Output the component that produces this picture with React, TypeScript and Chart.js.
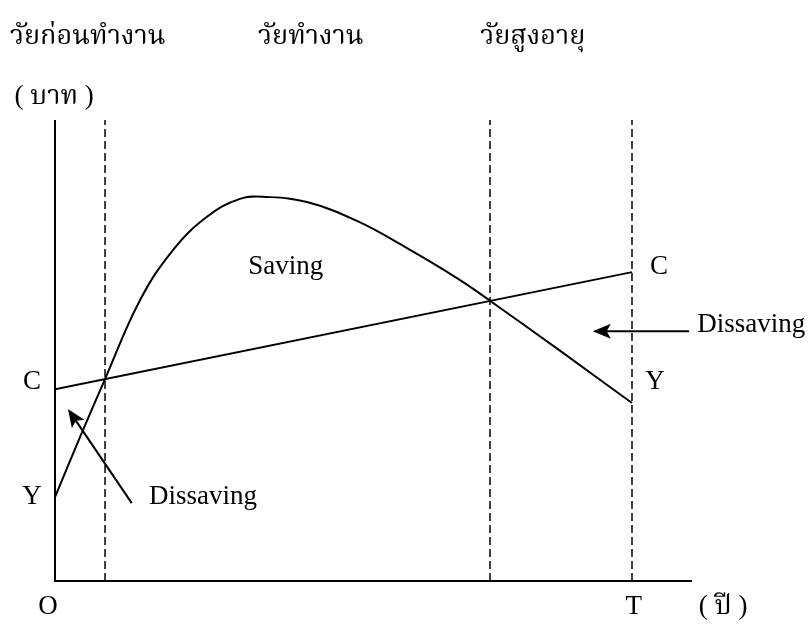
import React, { useEffect, useRef } from "react";
import { Chart, registerables } from "chart.js";

Chart.register(...registerables);

// ---- data (units: T = 100 on x, axis height = 100 on y) ----
const X_MAX = 110.4;
const Y_MAX = 100;
const T_END = 100;
const WORK_START = 8.67;
const RETIRE = 75.39;

const consumptionX = [0, 100];
const consumptionY = [41.6, 67.0];

const incomeX = [0, 4.33, 8.67, 14.73, 20.45, 26.34, 32.06, 36.74, 43.67, 52.34, 61.01, 69.67, 75.39, 87.69, 100];
const incomeY = [18.2, 31.2, 43.8, 60.9, 71.8, 79.0, 82.9, 83.3, 82.2, 78.1, 72.2, 65.7, 60.8, 49.8, 38.6];

const dividerX = [WORK_START, RETIRE, T_END];

const headingTexts = ["วัยก่อนทำงาน", "วัยทำงาน", "วัยสูงอายุ"];
const headingX = [-7.8, 35.2, 73.7];
const headingY = 116.5;

const unitTextY = "( บาท )";
const unitYX = -7.0;
const unitYY = 103.5;

const labelTexts = ["C", "Y", "C", "Y", "Saving", "Dissaving", "Dissaving", "O", "T", "( ปี )"];
const labelX = [-4.0, -4.0, 104.7, 104.0, 40.0, 111.3, 16.3, -1.2, 100.3, 115.8];
const labelY = [43.2, 18.2, 68.1, 43.2, 68.1, 55.5, 18.2, -5.6, -5.6, -5.6];
const labelAlign: CanvasTextAlign[] = ["center", "center", "center", "center", "center", "left", "left", "center", "center", "center"];

const arrowFromX = [13.3, 109.9];
const arrowFromY = [16.9, 54.2];
const arrowToX = [2.25, 93.2];
const arrowToY = [37.3, 54.2];

const LATIN_FONT = '27px "Liberation Serif", "Times New Roman", serif';
const THAI_FONT = '27px "Liberation Serif", "Noto Serif Thai", "Noto Sans Thai", "Norasi", "Loma", serif';

const overlayPlugin = {
  id: "overlay",
  afterDraw(chart: any) {
    const ctx: CanvasRenderingContext2D = chart.ctx;
    const xs = chart.scales.x;
    const ys = chart.scales.y;
    const px = (v: number) => xs.getPixelForValue(v);
    const py = (v: number) => ys.getPixelForValue(v);
    ctx.save();
    // axes
    ctx.strokeStyle = "#000";
    ctx.lineWidth = 2;
    ctx.beginPath();
    ctx.moveTo(px(0), py(Y_MAX));
    ctx.lineTo(px(0), py(0));
    ctx.lineTo(px(X_MAX), py(0));
    ctx.stroke();

    // arrows
    for (let i = 0; i < arrowFromX.length; i++) {
      const x0 = px(arrowFromX[i]);
      const y0 = py(arrowFromY[i]);
      const x1 = px(arrowToX[i]);
      const y1 = py(arrowToY[i]);
      const ang = Math.atan2(y1 - y0, x1 - x0);
      const headLen = 18;
      const headW = 7.5;
      const bx = x1 - headLen * Math.cos(ang);
      const by = y1 - headLen * Math.sin(ang);
      ctx.lineWidth = 2;
      ctx.beginPath();
      ctx.moveTo(x0, y0);
      ctx.lineTo(bx + 4 * Math.cos(ang), by + 4 * Math.sin(ang));
      ctx.stroke();
      const nx = -Math.sin(ang);
      const ny = Math.cos(ang);
      const nxp = x1 - (headLen - 4) * Math.cos(ang);
      const nyp = y1 - (headLen - 4) * Math.sin(ang);
      ctx.fillStyle = "#000";
      ctx.beginPath();
      ctx.moveTo(x1, y1);
      ctx.lineTo(bx + nx * headW, by + ny * headW);
      ctx.lineTo(nxp, nyp);
      ctx.lineTo(bx - nx * headW, by - ny * headW);
      ctx.closePath();
      ctx.fill();
    }

    // labels
    ctx.fillStyle = "#000";
    ctx.textBaseline = "middle";
    ctx.font = LATIN_FONT;
    for (let i = 0; i < labelTexts.length; i++) {
      ctx.textAlign = labelAlign[i];
      ctx.font = /[\u0E00-\u0E7F]/.test(labelTexts[i]) ? THAI_FONT : LATIN_FONT;
      ctx.fillText(labelTexts[i], px(labelX[i]), py(labelY[i]));
    }
    ctx.font = THAI_FONT;
    ctx.textAlign = "left";
    ctx.textBaseline = "alphabetic";
    for (let i = 0; i < headingTexts.length; i++) {
      ctx.fillText(headingTexts[i], px(headingX[i]), py(headingY));
    }
    ctx.fillText(unitTextY, px(unitYX), py(unitYY));
    ctx.restore();
  },
};

export default function App() {
  const canvasRef = useRef<HTMLCanvasElement | null>(null);

  useEffect(() => {
    if (!canvasRef.current) return;
    const datasets: any[] = [
      {
        label: "C",
        data: consumptionX.map((x, i) => ({ x, y: consumptionY[i] })),
        borderColor: "#000",
        borderWidth: 2,
        pointRadius: 0,
        tension: 0,
      },
      {
        label: "Y",
        data: incomeX.map((x, i) => ({ x, y: incomeY[i] })),
        borderColor: "#000",
        borderWidth: 2,
        pointRadius: 0,
        tension: 0.4,
      },
      ...dividerX.map((x) => ({
        label: "divider",
        data: [
          { x, y: 0 },
          { x, y: Y_MAX },
        ],
        borderColor: "#000",
        borderWidth: 1.5,
        borderDash: [8, 4],
        pointRadius: 0,
      })),
    ];
    const chart = new Chart(canvasRef.current, {
      type: "line",
      data: { datasets },
      options: {
        animation: false,
        responsive: true,
        maintainAspectRatio: false,
        layout: { padding: { left: 55, right: 118, top: 120, bottom: 43 } },
        plugins: { legend: { display: false }, tooltip: { enabled: false } },
        scales: {
          x: { type: "linear", min: 0, max: X_MAX, display: false },
          y: { type: "linear", min: 0, max: Y_MAX, display: false },
        },
      },
      plugins: [overlayPlugin],
    });
    return () => chart.destroy();
  }, []);

  return (
    <div style={{ position: "fixed", left: 0, top: 0, width: 810, height: 624, background: "#fff" }}>
      <canvas ref={canvasRef} />
    </div>
  );
}
